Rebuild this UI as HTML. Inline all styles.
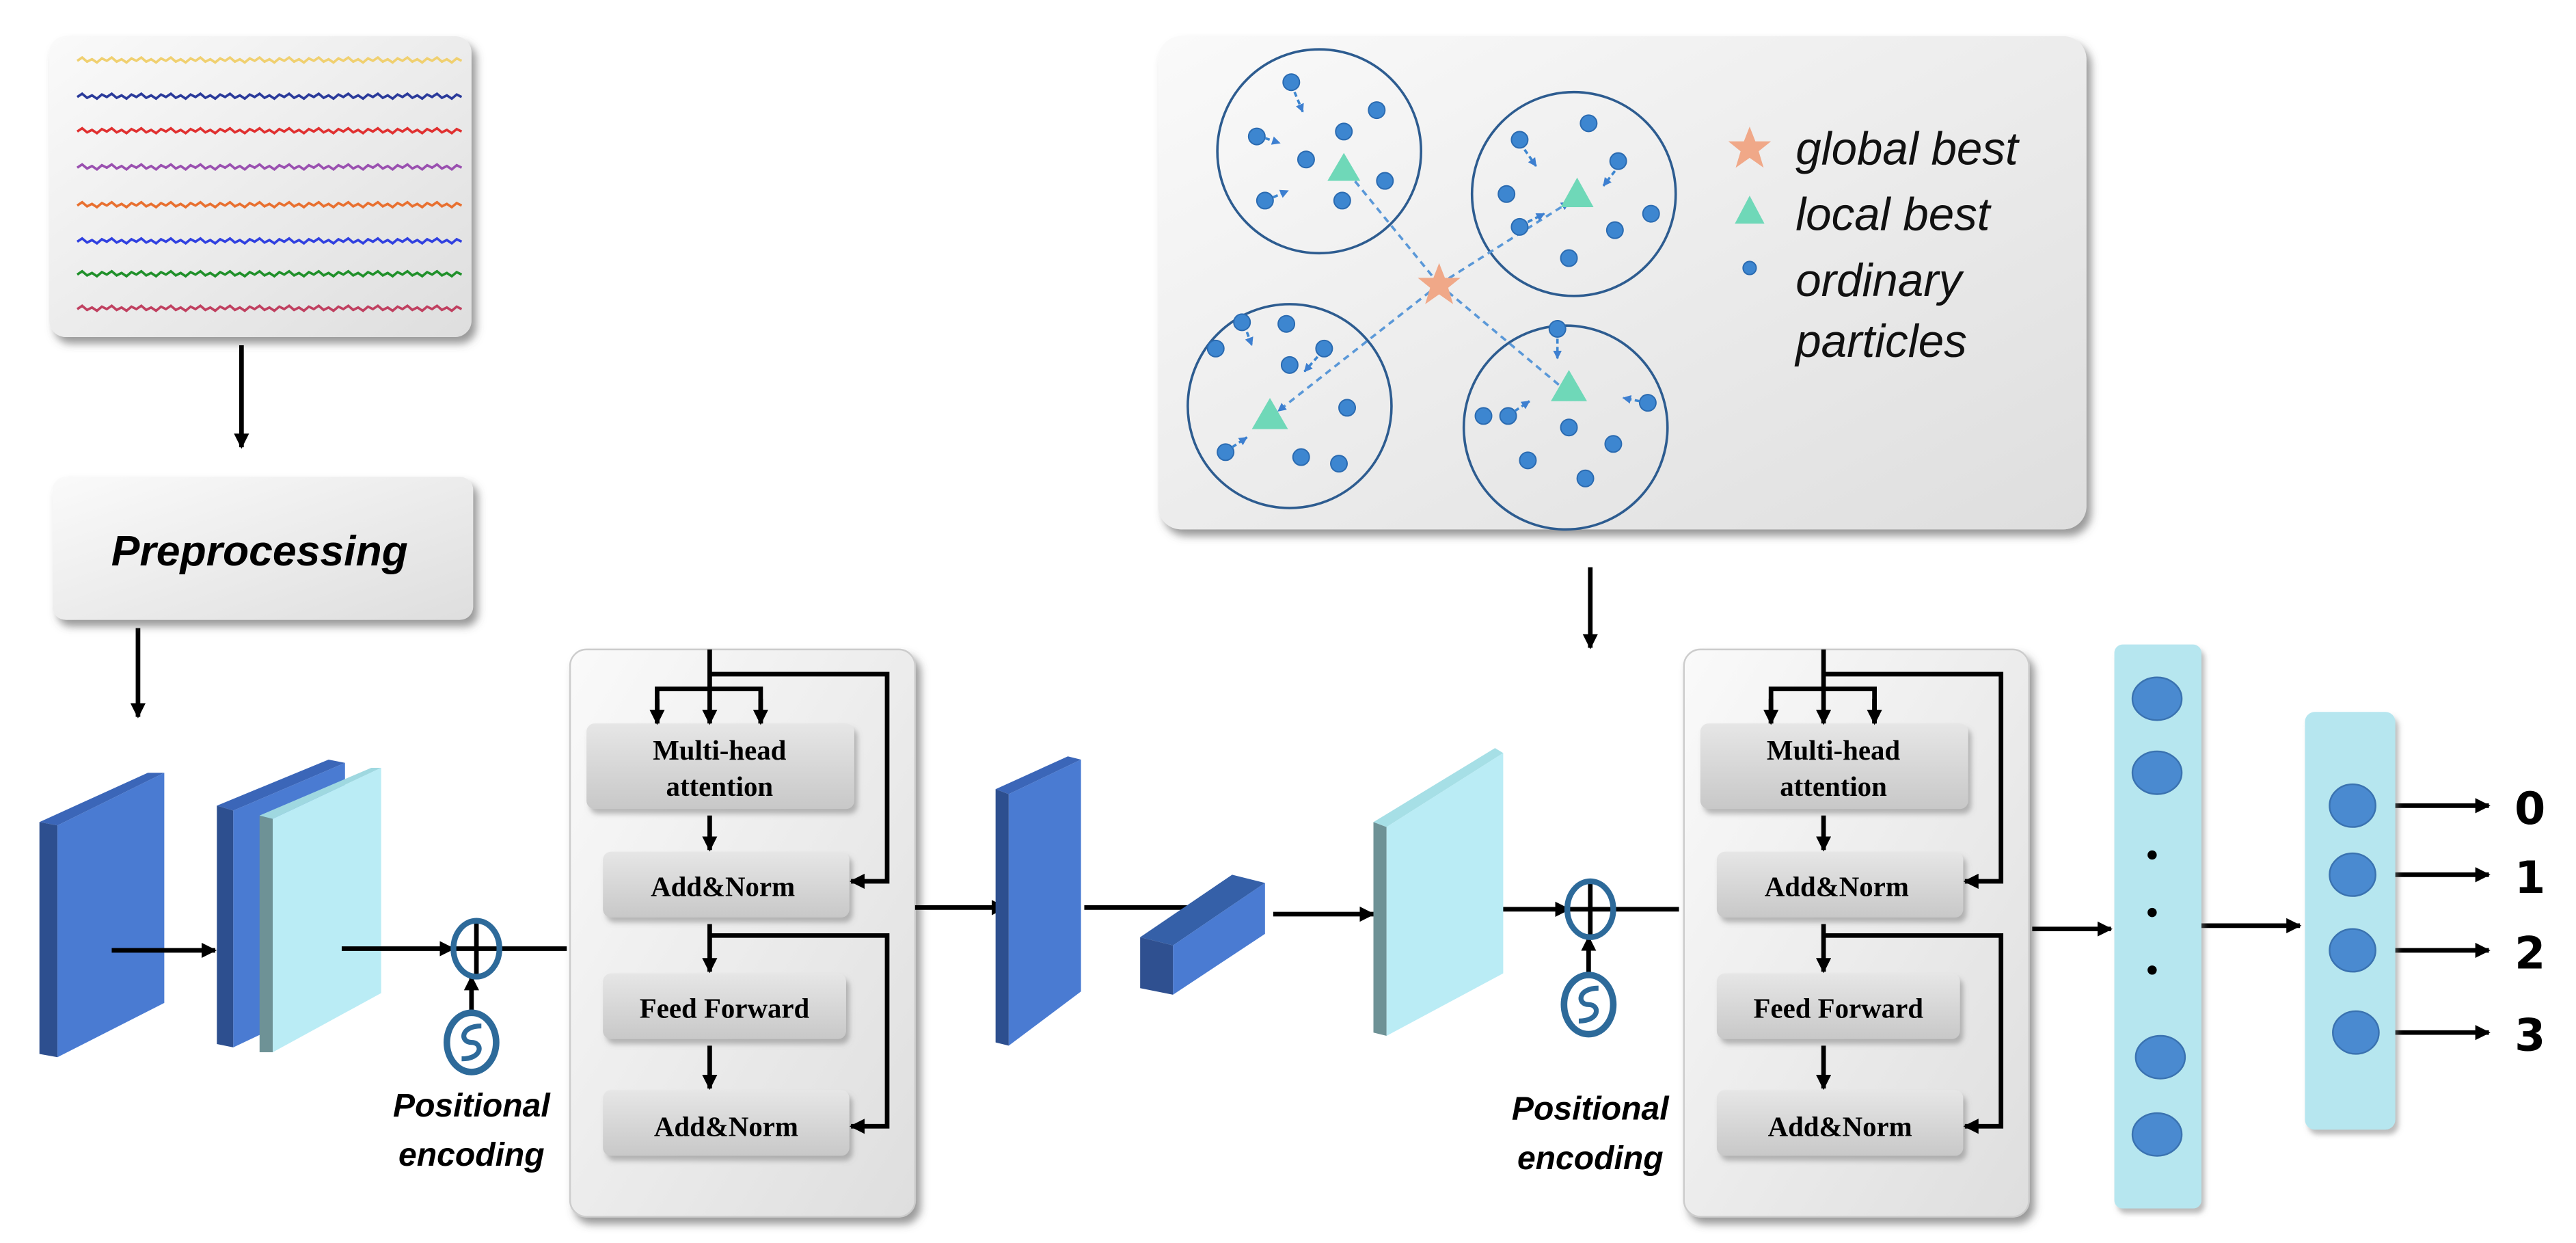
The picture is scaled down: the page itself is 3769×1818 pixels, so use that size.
<!DOCTYPE html>
<html><head><meta charset="utf-8"><style>
html,body{margin:0;padding:0;background:#fff}
svg{display:block}
</style></head><body>
<svg width="3769" height="1818" viewBox="0 0 1568 756" preserveAspectRatio="none" xmlns="http://www.w3.org/2000/svg">
<defs>
<marker id="a" viewBox="0 0 10 10" refX="9" refY="5" markerWidth="3.3" markerHeight="3.3" orient="auto" markerUnits="strokeWidth"><path d="M0,0 L10,5 L0,10 z" fill="#000"/></marker>
<marker id="b" viewBox="0 0 10 10" refX="9" refY="5" markerWidth="3.5" markerHeight="3.5" orient="auto" markerUnits="strokeWidth"><path d="M0,0 L10,5 L0,10 z" fill="#3d7fd0"/></marker>
<linearGradient id="g" x1="0" y1="0" x2="1" y2="1"><stop offset="0" stop-color="#fafafa"/><stop offset="1" stop-color="#dedede"/></linearGradient>
<linearGradient id="gb" x1="0" y1="0" x2="0" y2="1"><stop offset="0" stop-color="#e6e6e6"/><stop offset="1" stop-color="#c8c8c8"/></linearGradient>
<filter id="s" x="-10%" y="-10%" width="125%" height="125%"><feDropShadow dx="3" dy="4" stdDeviation="2.5" flood-color="#555" flood-opacity="0.6"/></filter>
<filter id="s2" x="-10%" y="-10%" width="125%" height="130%"><feDropShadow dx="2" dy="3" stdDeviation="1.5" flood-color="#777" flood-opacity="0.5"/></filter>
<path id="w" d="m0,0 l3,-2 l3,2.5 l3,-1.5 l3,2 l3,-2.5 l3,1.5 l3,-2 l3,2.5 l3,-1.5 l3,2 l3,-2.5 l3,1.5 l3,-2 l3,2.5 l3,-1.5 l3,2 l3,-2.5 l3,1.5 l3,-2 l3,2.5 l3,-1.5 l3,2 l3,-2.5 l3,1.5 l3,-2 l3,2.5 l3,-1.5 l3,2 l3,-2.5 l3,1.5 l3,-2 l3,2.5 l3,-1.5 l3,2 l3,-2.5 l3,1.5 l3,-2 l3,2.5 l3,-1.5 l3,2 l3,-2.5 l3,1.5 l3,-2 l3,2.5 l3,-1.5 l3,2 l3,-2.5 l3,1.5 l3,-2 l3,2.5 l3,-1.5 l3,2 l3,-2.5 l3,1.5 l3,-2 l3,2.5 l3,-1.5 l3,2 l3,-2.5 l3,1.5 l3,-2 l3,2.5 l3,-1.5 l3,2 l3,-2.5 l3,1.5 l3,-2 l3,2.5 l3,-1.5 l3,2 l3,-2.5 l3,1.5 l3,-2 l3,2.5 l3,-1.5 l3,2 l3,-2.5 l3,1.5"/>
</defs>

<rect x="30" y="22" width="257" height="183" rx="10" fill="url(#g)" filter="url(#s)"/>
<g fill="none" stroke-width="1.5">
<use href="#w" x="47" y="37" stroke="#f0d070"/>
<use href="#w" x="47" y="59" stroke="#2a3a9a"/>
<use href="#w" x="47" y="80" stroke="#e03030"/>
<use href="#w" x="47" y="102" stroke="#9a50b0"/>
<use href="#w" x="47" y="125" stroke="#e87030"/>
<use href="#w" x="47" y="147" stroke="#3040e0"/>
<use href="#w" x="47" y="167" stroke="#20902a"/>
<use href="#w" x="47" y="188" stroke="#c04060"/>
</g>

<g stroke="#000" stroke-width="2.8" fill="none" marker-end="url(#a)">
<line x1="147" y1="210" x2="147" y2="272"/>
<line x1="84" y1="382" x2="84" y2="436"/>
<line x1="968" y1="345" x2="968" y2="394"/>
</g>

<rect x="32" y="290" width="256" height="87" rx="8" fill="url(#g)" filter="url(#s)"/>
<text x="158" y="344" text-anchor="middle" font-family="Liberation Sans, sans-serif" font-weight="bold" font-style="italic" font-size="26">Preprocessing</text>

<polygon points="24,500 90,470 100,470 35,502" fill="#3b66b8"/>
<polygon points="24,500 35,502 35,643 24,641" fill="#2d4f8f"/>
<polygon points="35,502 100,470 100,610 35,643" fill="#4a7bd2"/>
<polygon points="132,490 200,462 210,464 142,493" fill="#3b66b8"/>
<polygon points="132,490 142,493 142,637 132,635" fill="#2d4f8f"/>
<polygon points="142,493 210,464 210,605 142,637" fill="#4a7bd2"/>
<polygon points="158,496 166,498 166,640 158,640" fill="#6e9296"/>
<polygon points="158,496 226,467 232,467 166,498" fill="#9fd8e0"/>
<polygon points="166,498 232,467 232,604 166,640" fill="#baecf5"/>

<g stroke="#000" stroke-width="2.8" fill="none">
<line x1="68" y1="578" x2="131" y2="578" marker-end="url(#a)"/>
<line x1="208" y1="577" x2="276" y2="577" marker-end="url(#a)"/>
<line x1="276" y1="577" x2="345" y2="577"/>
<line x1="290" y1="560" x2="290" y2="594"/>
<line x1="287" y1="616" x2="287" y2="594" marker-end="url(#a)"/>
</g>
<ellipse cx="290" cy="577" rx="14" ry="17" fill="none" stroke="#2d6a9a" stroke-width="3.5"/>
<ellipse cx="287" cy="634" rx="15" ry="18" fill="none" stroke="#2d6a9a" stroke-width="4"/>
<path d="M293,624 C280,624 280,634 287,634 C294,634 294,644 281,644" fill="none" stroke="#2d6a9a" stroke-width="3"/>
<text x="287" y="679" text-anchor="middle" font-family="Liberation Sans, sans-serif" font-weight="bold" font-style="italic" font-size="20">Positional</text>
<text x="287" y="709" text-anchor="middle" font-family="Liberation Sans, sans-serif" font-weight="bold" font-style="italic" font-size="20">encoding</text>

<g id="enc">
<rect x="347" y="395" width="210" height="345" rx="10" fill="url(#g)" stroke="#ccc" filter="url(#s)"/>
<g fill="url(#gb)" filter="url(#s2)">
<rect x="357" y="440" width="163" height="52" rx="5"/>
<rect x="367" y="518" width="150" height="40" rx="5"/>
<rect x="367" y="592" width="148" height="40" rx="5"/>
<rect x="367" y="663" width="150" height="40" rx="5"/>
</g>
<g font-family="Liberation Serif, serif" font-weight="bold" font-size="17" text-anchor="middle">
<text x="438" y="462">Multi-head</text>
<text x="438" y="484">attention</text>
<text x="440" y="545">Add&amp;Norm</text>
<text x="441" y="619">Feed Forward</text>
<text x="442" y="691">Add&amp;Norm</text>
</g>
<g stroke="#000" stroke-width="2.8" fill="none">
<line x1="432" y1="395" x2="432" y2="440" marker-end="url(#a)"/>
<polyline points="400,440 400,419 463,419 463,440"/>
<line x1="400" y1="425" x2="400" y2="440" marker-end="url(#a)"/>
<line x1="463" y1="425" x2="463" y2="440" marker-end="url(#a)"/>
<polyline points="432,410 540,410 540,536 518,536" marker-end="url(#a)"/>
<line x1="432" y1="496" x2="432" y2="517" marker-end="url(#a)"/>
<line x1="432" y1="562" x2="432" y2="591" marker-end="url(#a)"/>
<polyline points="432,569 540,569 540,685 518,685" marker-end="url(#a)"/>
<line x1="432" y1="636" x2="432" y2="662" marker-end="url(#a)"/>
</g>
</g>
<use href="#enc" x="678" y="0"/>

<g stroke="#000" stroke-width="2.8" fill="none">
<line x1="557" y1="552" x2="612" y2="552" marker-end="url(#a)"/>
<line x1="660" y1="552" x2="737" y2="552" marker-end="url(#a)"/>
<line x1="775" y1="556" x2="836" y2="556" marker-end="url(#a)"/>
<line x1="888" y1="553" x2="955" y2="553" marker-end="url(#a)"/>
<line x1="955" y1="553" x2="1022" y2="553"/>
<line x1="968" y1="536" x2="968" y2="570"/>
<line x1="967" y1="593" x2="967" y2="570" marker-end="url(#a)"/>
<line x1="1237" y1="565" x2="1285" y2="565" marker-end="url(#a)"/>
<line x1="1340" y1="563" x2="1400" y2="563" marker-end="url(#a)"/>
<line x1="1447" y1="490" x2="1515" y2="490" marker-end="url(#a)"/>
<line x1="1447" y1="532" x2="1515" y2="532" marker-end="url(#a)"/>
<line x1="1447" y1="578" x2="1515" y2="578" marker-end="url(#a)"/>
<line x1="1447" y1="628" x2="1515" y2="628" marker-end="url(#a)"/>
</g>
<ellipse cx="968" cy="553" rx="14" ry="17" fill="none" stroke="#2d6a9a" stroke-width="3.5"/>
<ellipse cx="967" cy="611" rx="15" ry="18" fill="none" stroke="#2d6a9a" stroke-width="4"/>
<path d="M973,601 C960,601 960,611 967,611 C974,611 974,621 961,621" fill="none" stroke="#2d6a9a" stroke-width="3"/>
<text x="968" y="681" text-anchor="middle" font-family="Liberation Sans, sans-serif" font-weight="bold" font-style="italic" font-size="20">Positional</text>
<text x="968" y="711" text-anchor="middle" font-family="Liberation Sans, sans-serif" font-weight="bold" font-style="italic" font-size="20">encoding</text>

<polygon points="606,480 650,460 658,462 614,483" fill="#3b66b8"/>
<polygon points="606,480 614,483 614,636 606,634" fill="#2d4f8f"/>
<polygon points="614,483 658,462 658,603 614,636" fill="#4a7bd2"/>
<polygon points="694,570 750,532 770,537 714,575" fill="#3560a8"/>
<polygon points="694,570 714,575 714,605 694,601" fill="#2f5090"/>
<polygon points="714,575 770,537 770,568 714,605" fill="#4a7bd2"/>
<polygon points="836,500 910,455 915,458 844,503" fill="#a6dfe6"/>
<polygon points="836,500 844,503 844,630 836,628" fill="#6e9296"/>
<polygon points="844,503 915,458 915,592 844,630" fill="#baecf5"/>

<rect x="705" y="22" width="565" height="300" rx="14" fill="url(#g)" filter="url(#s)"/>
<g fill="none" stroke="#2d5c90" stroke-width="1.5">
<circle cx="803" cy="92" r="62"/><circle cx="958" cy="118" r="62"/>
<circle cx="785" cy="247" r="62"/><circle cx="953" cy="260" r="62"/>
</g>
<g stroke="#5a98d8" stroke-width="1.5" stroke-dasharray="4,3" fill="none">
<line x1="876" y1="173" x2="823" y2="108"/>
<line x1="876" y1="173" x2="955" y2="123" marker-end="url(#b)"/>
<line x1="876" y1="173" x2="778" y2="250" marker-end="url(#b)"/>
<line x1="876" y1="173" x2="950" y2="235"/>
</g>
<g fill="#3d86d0" stroke="#2a6ab0" stroke-width="0.8">
<circle cx="786" cy="50" r="5"/><circle cx="838" cy="67" r="5"/><circle cx="765" cy="83" r="5"/><circle cx="818" cy="80" r="5"/><circle cx="795" cy="97" r="5"/><circle cx="843" cy="110" r="5"/><circle cx="770" cy="122" r="5"/><circle cx="817" cy="122" r="5"/>
<circle cx="925" cy="85" r="5"/><circle cx="967" cy="75" r="5"/><circle cx="985" cy="98" r="5"/><circle cx="917" cy="118" r="5"/><circle cx="983" cy="140" r="5"/><circle cx="955" cy="157" r="5"/><circle cx="925" cy="138" r="5"/><circle cx="1005" cy="130" r="5"/>
<circle cx="756" cy="196" r="5"/><circle cx="783" cy="197" r="5"/><circle cx="740" cy="212" r="5"/><circle cx="806" cy="212" r="5"/><circle cx="785" cy="222" r="5"/><circle cx="820" cy="248" r="5"/><circle cx="746" cy="275" r="5"/><circle cx="792" cy="278" r="5"/><circle cx="815" cy="282" r="5"/>
<circle cx="948" cy="200" r="5"/><circle cx="1003" cy="245" r="5"/><circle cx="903" cy="253" r="5"/><circle cx="918" cy="253" r="5"/><circle cx="955" cy="260" r="5"/><circle cx="982" cy="270" r="5"/><circle cx="930" cy="280" r="5"/><circle cx="965" cy="291" r="5"/>
<circle cx="1065" cy="163" r="4"/>
</g>
<g stroke="#3d86d0" stroke-width="1.5" stroke-dasharray="3,2" fill="none">
<line x1="788" y1="56" x2="793" y2="68" marker-end="url(#b)"/>
<line x1="770" y1="84" x2="779" y2="87" marker-end="url(#b)"/>
<line x1="775" y1="120" x2="784" y2="116" marker-end="url(#b)"/>
<line x1="928" y1="91" x2="935" y2="101" marker-end="url(#b)"/>
<line x1="983" y1="104" x2="976" y2="113" marker-end="url(#b)"/>
<line x1="930" y1="135" x2="940" y2="130" marker-end="url(#b)"/>
<line x1="759" y1="202" x2="762" y2="210" marker-end="url(#b)"/>
<line x1="802" y1="217" x2="794" y2="226" marker-end="url(#b)"/>
<line x1="750" y1="272" x2="759" y2="266" marker-end="url(#b)"/>
<line x1="948" y1="206" x2="948" y2="218" marker-end="url(#b)"/>
<line x1="998" y1="244" x2="988" y2="242" marker-end="url(#b)"/>
<line x1="922" y1="250" x2="931" y2="244" marker-end="url(#b)"/>
</g>
<g fill="#6fd8b8">
<polygon points="818,93 828,110 808,110"/>
<polygon points="960,108 970,126 950,126"/>
<polygon points="773,242 784,261 762,261"/>
<polygon points="955,225 966,244 944,244"/>
<polygon points="1065,119 1074,136 1056,136"/>
</g>
<g fill="#f0a888">
<polygon points="876,160 879.5,169 889,169 881.5,175 884.5,185 876,179 867.5,185 870.5,175 863,169 872.5,169"/>
<polygon points="1065,77 1068.5,86 1078,86 1070.5,92 1073.5,102 1065,96 1056.5,102 1059.5,92 1052,86 1061.5,86"/>
</g>
<g font-family="Liberation Sans, sans-serif" font-style="italic" font-size="28" fill="#111">
<text x="1093" y="100">global best</text>
<text x="1093" y="140">local best</text>
<text x="1093" y="180">ordinary</text>
<text x="1093" y="217">particles</text>
</g>

<rect x="1287" y="392" width="53" height="343" rx="5" fill="#b6e6ef" filter="url(#s2)"/>
<g fill="#4a8ad0" stroke="#3a72b0" stroke-width="1">
<ellipse cx="1313" cy="425" rx="15" ry="13"/><ellipse cx="1313" cy="470" rx="15" ry="13"/>
<ellipse cx="1315" cy="643" rx="15" ry="13"/><ellipse cx="1313" cy="690" rx="15" ry="13"/>
</g>
<g fill="#000"><circle cx="1310" cy="520" r="2.8"/><circle cx="1310" cy="555" r="2.8"/><circle cx="1310" cy="590" r="2.8"/></g>
<rect x="1403" y="433" width="55" height="254" rx="6" fill="#b6e6ef" filter="url(#s2)"/>
<g fill="#4a8ad0" stroke="#3a72b0" stroke-width="1">
<ellipse cx="1432" cy="490" rx="14" ry="13"/><ellipse cx="1432" cy="532" rx="14" ry="13"/>
<ellipse cx="1432" cy="578" rx="14" ry="13"/><ellipse cx="1434" cy="628" rx="14" ry="13"/>
</g>
<g font-family="DejaVu Sans, sans-serif" font-weight="bold" font-size="27" text-anchor="middle">
<text x="1540" y="501">0</text><text x="1540" y="543">1</text><text x="1540" y="589">2</text><text x="1540" y="639">3</text>
</g>
</svg>
</body></html>
